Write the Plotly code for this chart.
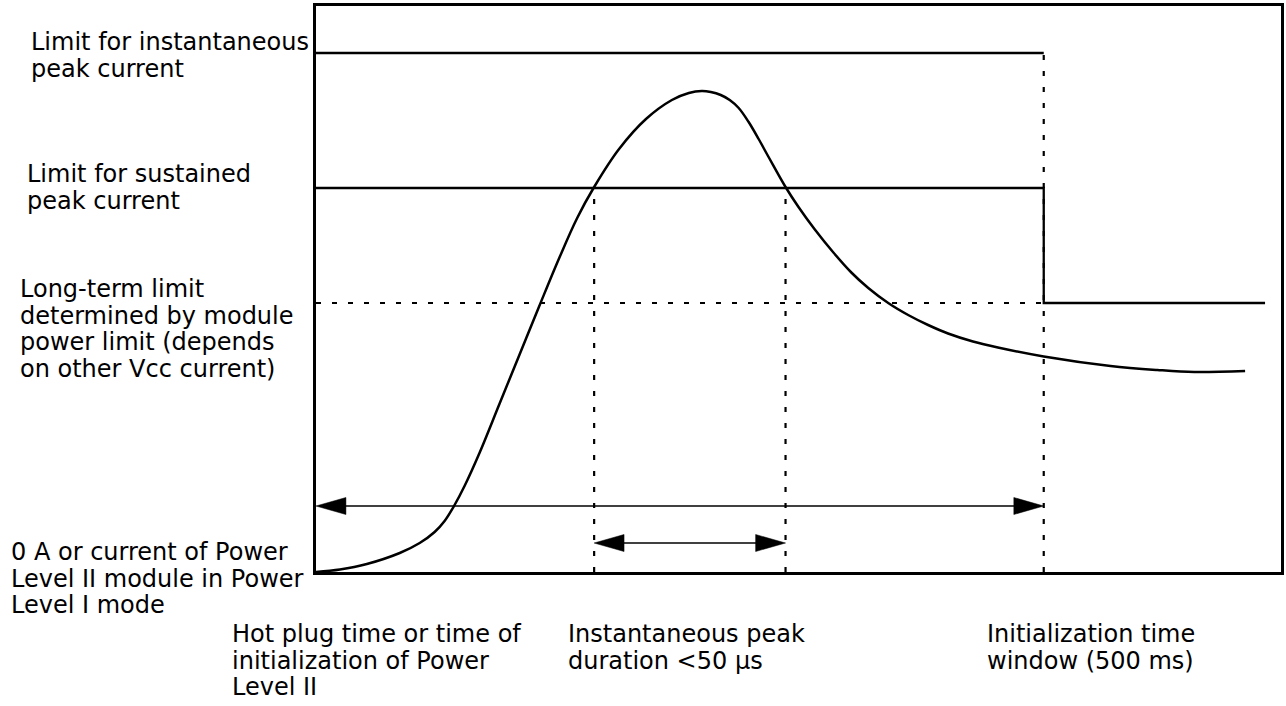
import plotly.graph_objects as go

# ---------------- data (arbitrary time / current units) ----------------
curve_t = [0, 24, 51, 84, 104, 119, 129, 139, 149, 164, 184, 204, 224, 244, 262,
           279, 304, 331, 357, 374, 387, 396, 406, 415, 424, 434, 444, 454, 471,
           484, 500, 519, 537, 554, 574, 594, 614, 634, 659, 684, 730, 797, 844,
           881, 932]
curve_i = [0, 2.5, 8, 19, 29, 40, 51, 67, 86, 119, 168, 217, 266, 314, 354,
           385, 423, 453, 472, 479, 481, 480, 477, 472, 464, 450, 433, 415, 385,
           365, 343, 319.5, 299.5, 284, 269, 257, 247, 238.5, 230.5, 224.5, 215.5,
           206, 202, 200, 201]

limit_instant = 519      # limit for instantaneous peak current
limit_sustained = 384    # limit for sustained peak current
limit_longterm = 269     # long-term limit
t_peak_start = 279       # instantaneous peak start
t_peak_end = 471         # instantaneous peak end
t_init_end = 730         # end of initialization window
t_last = 952             # end of long-term limit line
arrow_window_level = 66
arrow_peak_level = 29

x_range = [0, 968]
y_range = [0, 566]

left_labels = [
    (["Limit for instantaneous", "peak current"], 29, 42),
    (["Limit for sustained", "peak current"], 25, 174),
    (["Long-term limit", "determined by module", "power limit (depends",
      "on other Vcc current)"], 18, 289),
    (["0 A or current of Power", "Level II module in Power", "Level I mode"], 9, 552),
]
bottom_labels = [
    (["Hot plug time or time of", "initialization of Power", "Level II"], 231, 634),
    (["Instantaneous peak", "duration <50 \u03bcs"], 568, 634),
    (["Initialization time", "window (500 ms)"], 988, 634),
]

# ---------------- layout geometry ----------------
W, H = 1286, 706
L, R, T, B = 316, 2, 6, 134
PW, PH = W - L - R, H - T - B
LINE_GAP = 26.7
FONT = dict(family="DejaVu Sans, sans-serif", size=24, color="black")
DOT = "5px,11px"

fig = go.Figure()

def line(xs, ys, width=2.3, dash="solid", shape="linear"):
    fig.add_trace(go.Scatter(x=xs, y=ys, mode="lines", hoverinfo="skip",
                             line=dict(color="black", width=width, dash=dash, shape=shape),
                             showlegend=False))

# limits
line([0, t_init_end], [limit_instant, limit_instant])
line([0, t_init_end, t_init_end, t_last],
     [limit_sustained, limit_sustained, limit_longterm, limit_longterm])
line([0, t_init_end], [limit_longterm, limit_longterm], width=2.2, dash=DOT)
# vertical dotted markers
line([t_peak_start, t_peak_start], [0, limit_sustained], width=2.2, dash=DOT)
line([t_peak_end, t_peak_end], [0, limit_sustained], width=2.2, dash=DOT)
line([t_init_end, t_init_end], [0, limit_instant], width=2.2, dash=DOT)
# current curve
line(curve_t, curve_i, width=2.5, shape="spline")

# double arrows
HEAD_L, HEAD_HW = 30, 8.5
def double_arrow(x0, x1, y):
    line([x0 + HEAD_L - 2, x1 - HEAD_L + 2], [y, y], width=1.3)
    for tip, back in ((x0, x0 + HEAD_L), (x1, x1 - HEAD_L)):
        fig.add_trace(go.Scatter(x=[tip, back, back, tip], y=[y, y + HEAD_HW, y - HEAD_HW, y],
                                 mode="lines", fill="toself", fillcolor="black",
                                 line=dict(color="black", width=0.5),
                                 hoverinfo="skip", showlegend=False))

double_arrow(0, t_init_end, arrow_window_level)
double_arrow(t_peak_start, t_peak_end, arrow_peak_level)

# text labels (one annotation per line for exact spacing)
def px_to_paper(px, py):
    return (px - L) / PW, (H - B - py) / PH

for lines, px, py0 in left_labels + bottom_labels:
    for k, txt in enumerate(lines):
        xp, yp = px_to_paper(px, py0 + k * LINE_GAP)
        fig.add_annotation(x=xp, y=yp, xref="paper", yref="paper", text=txt,
                           showarrow=False, xanchor="left", yanchor="middle",
                           font=FONT, borderpad=0)

axis_common = dict(showgrid=False, zeroline=False, showticklabels=False, ticks="",
                   showline=True, linecolor="black", linewidth=2.5, mirror=True, fixedrange=True)
fig.update_xaxes(range=x_range, **axis_common)
fig.update_yaxes(range=y_range, **axis_common)
fig.update_layout(width=W, height=H, margin=dict(l=L, r=R, t=T, b=B),
                  paper_bgcolor="white", plot_bgcolor="white", showlegend=False)

fig.write_html("out.html", config={"displayModeBar": False},
               post_script="document.body.style.margin='0';")
